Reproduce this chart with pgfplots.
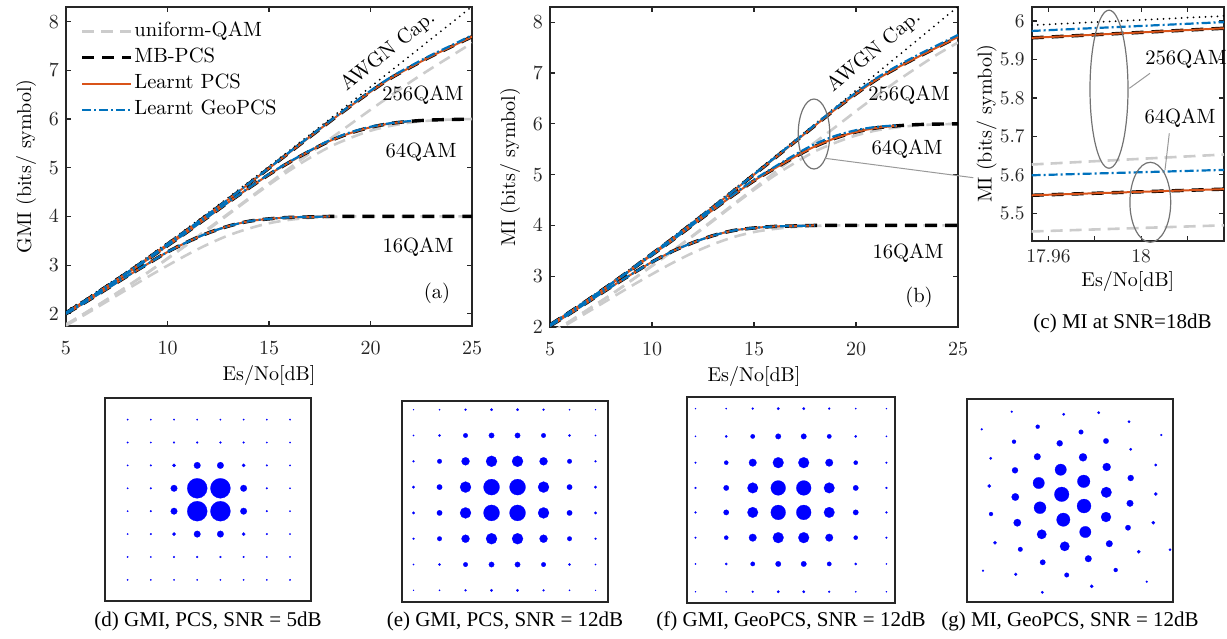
\documentclass[border=0pt]{standalone}
\usepackage{fontspec}
\usepackage{pgfplots}
\usepackage{pgfplotstable}
\pgfplotsset{compat=1.18}
\newfontfamily\tnr{Liberation Serif}

\definecolor{mlorange}{rgb}{0.85,0.325,0.098}
\definecolor{mlblue}{rgb}{0,0.447,0.741}
\definecolor{ugray}{rgb}{0.8,0.8,0.8}
\definecolor{axgray}{rgb}{0.15,0.15,0.15}
\newcommand\lab{\fontsize{10.3}{12}\selectfont}

% GMI curves, panel (a): x C uniform(16,64,256) MB(16,64,256) learnt PCS(16,64,256) learnt GeoPCS(16,64,256)
\pgfplotstableread[row sep=\\]{
x C u16 u64 u256 m16 m64 m256 l16 l64 l256 g16 g64 g256\\
5 2.057 1.76 1.78 1.78 2.00 2.02 2.02 2.00 2.02 2.02 2.00 2.02 2.025\\
6 2.316 2.00 2.03 2.03 2.25 2.28 2.28 2.25 2.28 2.28 2.25 2.28 2.285\\
7 2.588 2.25 2.29 2.29 2.51 2.56 2.56 2.51 2.56 2.56 2.51 2.56 2.565\\
8 2.870 2.50 2.56 2.56 2.77 2.83 2.84 2.77 2.83 2.84 2.77 2.83 2.845\\
9 3.161 2.75 2.84 2.84 3.02 3.11 3.13 3.02 3.11 3.13 3.02 3.11 3.135\\
10 3.459 2.99 3.13 3.14 3.27 3.40 3.43 3.27 3.40 3.43 3.27 3.40 3.435\\
11 3.764 3.22 3.43 3.44 3.48 3.69 3.73 3.48 3.69 3.73 3.48 3.69 3.735\\
12 4.075 3.43 3.73 3.75 3.66 3.99 4.04 3.66 3.99 4.04 3.66 3.995 4.045\\
13 4.389 3.61 4.04 4.06 3.80 4.29 4.35 3.80 4.29 4.35 3.80 4.295 4.355\\
14 4.707 3.75 4.35 4.37 3.90 4.58 4.67 3.90 4.58 4.67 3.90 4.585 4.675\\
15 5.028 3.86 4.65 4.68 3.95 4.86 4.99 3.95 4.86 4.99 3.95 4.87 4.995\\
16 5.351 3.93 4.94 4.99 3.98 5.11 5.31 3.98 5.11 5.31 3.98 5.12 5.32\\
17 5.676 3.97 5.20 5.29 3.99 5.34 5.63 3.99 5.34 5.63 3.99 5.35 5.64\\
18 6.002 3.99 5.43 5.59 4.00 5.55 5.95 4.00 5.55 5.95 4.00 5.565 5.96\\
19 6.330 4.00 5.61 5.89 4.00 5.71 6.26 nan 5.71 6.26 nan 5.725 6.275\\
20 6.658 4.00 5.76 6.19 4.00 5.83 6.56 nan 5.83 6.56 nan 5.84 6.58\\
21 6.988 4.00 5.86 6.48 4.00 5.91 6.84 nan 5.91 6.84 nan 5.915 6.86\\
22 7.317 4.00 5.93 6.77 4.00 5.955 7.07 nan 5.955 7.07 nan 5.96 7.095\\
23 7.647 4.00 5.97 7.04 4.00 5.98 7.29 nan nan 7.29 nan nan 7.315\\
24 7.978 4.00 5.99 7.30 4.00 5.99 7.49 nan nan 7.49 nan nan 7.515\\
25 8.309 4.00 6.00 7.56 4.00 6.00 7.69 nan nan 7.69 nan nan 7.72\\
}\gmitab

% MI curves, panel (b)
\pgfplotstableread[row sep=\\]{
x C u16 u64 u256 m16 m64 m256 l16 l64 l256 g16 g64 g256\\
5 2.057 1.86 1.88 1.88 2.02 2.04 2.04 2.02 2.04 2.04 2.02 2.04 2.045\\
6 2.316 2.09 2.12 2.12 2.27 2.30 2.30 2.27 2.30 2.30 2.27 2.30 2.305\\
7 2.588 2.33 2.38 2.38 2.53 2.57 2.57 2.53 2.57 2.57 2.53 2.57 2.575\\
8 2.870 2.57 2.64 2.64 2.79 2.85 2.85 2.79 2.85 2.85 2.79 2.85 2.855\\
9 3.161 2.81 2.92 2.92 3.04 3.13 3.14 3.04 3.13 3.14 3.04 3.13 3.145\\
10 3.459 3.04 3.20 3.21 3.28 3.42 3.44 3.28 3.42 3.44 3.28 3.42 3.445\\
11 3.764 3.26 3.49 3.50 3.49 3.71 3.74 3.49 3.71 3.74 3.49 3.71 3.745\\
12 4.075 3.46 3.79 3.80 3.66 4.01 4.05 3.66 4.01 4.05 3.66 4.015 4.055\\
13 4.389 3.63 4.09 4.11 3.80 4.31 4.36 3.80 4.31 4.36 3.80 4.32 4.365\\
14 4.707 3.77 4.40 4.42 3.90 4.60 4.68 3.90 4.60 4.68 3.90 4.615 4.685\\
15 5.028 3.87 4.70 4.73 3.95 4.88 5.00 3.95 4.88 5.00 3.95 4.90 5.005\\
16 5.351 3.93 4.98 5.04 3.98 5.12 5.32 3.98 5.12 5.32 3.98 5.15 5.33\\
17 5.676 3.97 5.23 5.34 3.99 5.35 5.645 3.99 5.35 5.645 3.99 5.39 5.658\\
18 6.002 3.99 5.46 5.64 4.00 5.557 5.97 4.00 5.557 5.97 4.00 5.606 5.986\\
19 6.330 4.00 5.63 5.94 4.00 5.72 6.29 nan 5.72 6.29 nan 5.765 6.31\\
20 6.658 4.00 5.77 6.25 4.00 5.84 6.59 nan 5.84 6.59 nan 5.875 6.615\\
21 6.988 4.00 5.87 6.55 4.00 5.92 6.87 nan 5.92 6.87 nan 5.94 6.90\\
22 7.317 4.00 5.93 6.84 4.00 5.96 7.10 nan 5.96 7.10 nan 5.97 7.135\\
23 7.647 4.00 5.97 7.11 4.00 5.985 7.31 nan nan 7.31 nan nan 7.35\\
24 7.978 4.00 5.99 7.37 4.00 5.995 7.51 nan nan 7.51 nan nan 7.55\\
25 8.309 4.00 6.00 7.60 4.00 6.00 7.71 nan nan 7.71 nan nan 7.75\\
}\mitab

% zoom at 18 dB, panel (c)
\pgfplotstableread[row sep=\\]{
x C u64 u256 m64 m256 g64 g256\\
17.9528 5.989 5.453 5.627 5.547 5.956 5.599 5.974\\
18.0357 6.013 5.469 5.653 5.563 5.981 5.613 5.997\\
}\zoomtab

% constellations: x y radius(px)
\pgfplotstableread[row sep=\\]{
x y r\\
-7 7 .75\\ -5 7 .75\\ -3 7 .75\\ -1 7 .75\\ 1 7 .75\\ 3 7 .75\\ 5 7 .75\\ 7 7 .75\\
-7 5 .75\\ -5 5 .75\\ -3 5 .9\\ -1 5 1.0\\ 1 5 1.0\\ 3 5 .9\\ 5 5 .75\\ 7 5 .75\\
-7 3 .75\\ -5 3 .9\\ -3 3 1.7\\ -1 3 3.3\\ 1 3 3.3\\ 3 3 1.7\\ 5 3 .9\\ 7 3 .75\\
-7 1 .75\\ -5 1 .9\\ -3 1 3.3\\ -1 1 10\\ 1 1 10\\ 3 1 3.3\\ 5 1 .9\\ 7 1 .75\\
-7 -1 .75\\ -5 -1 .9\\ -3 -1 3.3\\ -1 -1 10\\ 1 -1 10\\ 3 -1 3.3\\ 5 -1 .9\\ 7 -1 .75\\
-7 -3 .75\\ -5 -3 .9\\ -3 -3 1.7\\ -1 -3 3.3\\ 1 -3 3.3\\ 3 -3 1.7\\ 5 -3 .9\\ 7 -3 .75\\
-7 -5 .75\\ -5 -5 .75\\ -3 -5 .9\\ -1 -5 1.0\\ 1 -5 1.0\\ 3 -5 .9\\ 5 -5 .75\\ 7 -5 .75\\
-7 -7 .75\\ -5 -7 .75\\ -3 -7 .75\\ -1 -7 .75\\ 1 -7 .75\\ 3 -7 .75\\ 5 -7 .75\\ 7 -7 .75\\
}\constd

\pgfplotstableread[row sep=\\]{
x y r\\
-7 7 .5\\ -5 7 .7\\ -3 7 1.0\\ -1 7 1.3\\ 1 7 1.3\\ 3 7 1.0\\ 5 7 .7\\ 7 7 .5\\
-7 5 .7\\ -5 5 1.2\\ -3 5 2.3\\ -1 5 2.7\\ 1 5 2.7\\ 3 5 2.3\\ 5 5 1.2\\ 7 5 .7\\
-7 3 1.0\\ -5 3 2.3\\ -3 3 4.0\\ -1 3 5.5\\ 1 3 5.5\\ 3 3 4.0\\ 5 3 2.3\\ 7 3 1.0\\
-7 1 1.3\\ -5 1 2.7\\ -3 1 5.5\\ -1 1 8.0\\ 1 1 8.0\\ 3 1 5.5\\ 5 1 2.7\\ 7 1 1.3\\
-7 -1 1.3\\ -5 -1 2.7\\ -3 -1 5.5\\ -1 -1 8.0\\ 1 -1 8.0\\ 3 -1 5.5\\ 5 -1 2.7\\ 7 -1 1.3\\
-7 -3 1.0\\ -5 -3 2.3\\ -3 -3 4.0\\ -1 -3 5.5\\ 1 -3 5.5\\ 3 -3 4.0\\ 5 -3 2.3\\ 7 -3 1.0\\
-7 -5 .7\\ -5 -5 1.2\\ -3 -5 2.3\\ -1 -5 2.7\\ 1 -5 2.7\\ 3 -5 2.3\\ 5 -5 1.2\\ 7 -5 .7\\
-7 -7 .5\\ -5 -7 .7\\ -3 -7 1.0\\ -1 -7 1.3\\ 1 -7 1.3\\ 3 -7 1.0\\ 5 -7 .7\\ 7 -7 .5\\
}\conste

\pgfplotstableread[row sep=\\]{
x y r\\
-7.49 7.18 .6\\ -5.08 7.18 .7\\ -3 7.18 1.0\\ -1 7.18 1.3\\ 1 7.18 1.3\\ 3 7.18 1.0\\ 5.08 7.18 .7\\ 7.49 7.18 .6\\
-7.49 5 .7\\ -5.08 5 1.2\\ -3 5 2.2\\ -1 5 2.75\\ 1 5 2.75\\ 3 5 2.2\\ 5.08 5 1.2\\ 7.49 5 .7\\
-7.49 2.94 .9\\ -5.08 2.94 2.1\\ -3 2.94 3.8\\ -1 2.94 5.4\\ 1 2.94 5.4\\ 3 2.94 3.8\\ 5.08 2.94 2.1\\ 7.49 2.94 .9\\
-7.49 .96 1.0\\ -5.08 .96 2.7\\ -3 .96 5.3\\ -1 .96 7.4\\ 1 .96 7.4\\ 3 .96 5.3\\ 5.08 .96 2.7\\ 7.49 .96 1.0\\
-7.49 -.96 1.0\\ -5.08 -.96 2.7\\ -3 -.96 5.3\\ -1 -.96 7.4\\ 1 -.96 7.4\\ 3 -.96 5.3\\ 5.08 -.96 2.7\\ 7.49 -.96 1.0\\
-7.49 -2.94 .9\\ -5.08 -2.94 2.1\\ -3 -2.94 3.8\\ -1 -2.94 5.4\\ 1 -2.94 5.4\\ 3 -2.94 3.8\\ 5.08 -2.94 2.1\\ 7.49 -2.94 .9\\
-7.49 -5 .7\\ -5.08 -5 1.2\\ -3 -5 2.2\\ -1 -5 2.75\\ 1 -5 2.75\\ 3 -5 2.2\\ 5.08 -5 1.2\\ 7.49 -5 .7\\
-7.49 -7.18 .6\\ -5.08 -7.18 .7\\ -3 -7.18 1.0\\ -1 -7.18 1.3\\ 1 -7.18 1.3\\ 3 -7.18 1.0\\ 5.08 -7.18 .7\\ 7.49 -7.18 .6\\
}\constf

\pgfplotstableread[row sep=\\]{
x y r\\
-61.3 88.3 1.0\\ -9.3 85.7 1.3\\ 25.7 87.3 1.3\\ -91.3 70.7 1.0\\ -35.3 73.3 2.0\\
8.0 68.0 2.3\\ 56.0 78.3 1.3\\ 88.3 65.0 1.0\\ -59.0 58.3 2.0\\ -13.3 56.7 3.0\\
33.0 59.0 2.7\\ 57.7 50.7 1.3\\ -82.3 41.7 1.3\\ -35.7 43.3 3.3\\ 10.0 42.7 4.0\\
33.7 33.0 4.0\\ 82.7 35.0 1.3\\ -58.0 29.7 3.0\\ -12.3 30.3 5.7\\ 57.7 22.0 3.0\\
-83.7 14.0 1.7\\ -34.3 17.0 5.7\\ 10.7 18.7 6.3\\ 82.7 6.0 1.7\\ -57.7 3.0 3.7\\
-11.3 5.7 7.3\\ 33.3 7.7 5.3\\ 57.0 -3.3 3.3\\ -82.0 -14.0 2.0\\ -33.0 -7.7 6.0\\
11.0 -6.0 7.0\\ -55.7 -22.7 3.7\\ -9.7 -19.7 6.7\\ 33.0 -17.0 5.0\\ 80.3 -22.7 1.7\\
55.0 -27.7 2.7\\ -31.3 -34.3 4.7\\ 12.3 -32.0 5.7\\ -78.0 -42.7 1.7\\ -52.7 -49.3 2.3\\
-8.3 -46.3 4.7\\ 36.3 -43.7 3.3\\ 97.0 -49.7 1.2\\ 65.7 -51.7 1.7\\ -30.3 -62.3 2.7\\
15.3 -58.7 3.3\\ -90.0 -70.7 1.0\\ -57.3 -74.3 1.5\\ -6.3 -75.0 2.3\\ 42.7 -70.0 2.0\\
73.7 -81.7 1.0\\ -30.7 -92.3 1.3\\ 18.7 -86.3 1.7\\
}\constg

\pgfplotsset{
  capsty/.style={black, line width=1pt, line cap=round, dash pattern=on 0pt off 3pt},
  unisty/.style={ugray, line width=1.3pt, dash pattern=on 6pt off 3.5pt},
  mbsty/.style={black, line width=1.7pt, dash pattern=on 6pt off 4pt},
  lpsty/.style={mlorange, line width=1pt},
  gpsty/.style={mlblue, line width=1.1pt, dash pattern=on 4.5pt off 1.5pt on 1pt off 1.5pt},
  curveax/.style={scale only axis, anchor=south west,
    axis line style={axgray, line width=0.8pt},
    tick style={axgray, line width=0.6pt}, major tick length=2.5pt,
    tick label style={font=\fontsize{9.7}{11}\selectfont, text=axgray},
    label style={font=\fontsize{12}{14}\selectfont, text=axgray},
    unbounded coords=jump,
    every axis y label/.style={at={([xshift=-20pt]rel axis cs:0,0.5)}, anchor=center, rotate=90},
    every axis x label/.style={at={([yshift=-24.5pt]rel axis cs:0.5,0)}, anchor=center}},
  constax/.style={scale only axis, anchor=south west, xtick=\empty, ytick=\empty,
    axis line style={axgray, line width=1pt}},
  dots/.style={scatter, only marks, mark=*,
    visualization depends on={0.5*\thisrow{r} \as \rr},
    scatter/@pre marker code/.code={\scope[mark size=\rr pt, draw=blue, fill=blue, line width=0.1pt]},
    scatter/@post marker code/.code={\endscope}},
}

\begin{document}
\begin{tikzpicture}
\useasboundingbox (0,0) rectangle (613.5pt,-319pt);

% (a) GMI
\begin{axis}[curveax, at={(33pt,-163pt)}, width=203pt, height=159.5pt,
  xmin=5, xmax=25, ymin=1.75, ymax=8.3,
  xtick={5,10,15,20,25}, ytick={2,3,4,5,6,7,8},
  xticklabel style={anchor=center, yshift=-10.8pt},
  xlabel={Es/No[dB]}, ylabel={GMI (bits/ symbol)},
  legend style={draw=none, fill=none, at={(axis description cs:0,1)}, anchor=north west,
    xshift=7pt, yshift=-6.4pt, inner sep=0pt, row sep=1.8pt,
    font=\fontsize{10.3}{12}\selectfont,
    nodes={inner sep=0.8pt, text height=0.72em, text depth=0.25em}},
  legend cell align=left,
  legend image code/.code={\draw[#1] (0pt,0pt) -- (21pt,0pt); \path (0pt,0pt) -- (24.5pt,0pt);}]
\addplot[capsty, forget plot] table[x=x, y=C] {\gmitab};
\addplot[unisty, smooth] table[x=x, y=u16] {\gmitab};
\addlegendentry{uniform-QAM}
\addplot[unisty, smooth, forget plot] table[x=x, y=u64] {\gmitab};
\addplot[unisty, smooth, forget plot] table[x=x, y=u256] {\gmitab};
\addplot[mbsty, smooth] table[x=x, y=m16] {\gmitab};
\addlegendentry{MB-PCS}
\addplot[mbsty, smooth, forget plot] table[x=x, y=m64] {\gmitab};
\addplot[mbsty, smooth, forget plot] table[x=x, y=m256] {\gmitab};
\addplot[lpsty, smooth] table[x=x, y=l16] {\gmitab};
\addlegendentry{Learnt PCS}
\addplot[lpsty, smooth, forget plot] table[x=x, y=l64] {\gmitab};
\addplot[lpsty, smooth, forget plot] table[x=x, y=l256] {\gmitab};
\addplot[gpsty, smooth] table[x=x, y=g16] {\gmitab};
\addlegendentry{Learnt GeoPCS}
\addplot[gpsty, smooth, forget plot] table[x=x, y=g64] {\gmitab};
\addplot[gpsty, smooth, forget plot] table[x=x, y=g256] {\gmitab};
\end{axis}

% (b) MI
\begin{axis}[curveax, at={(275pt,-163.5pt)}, width=204pt, height=160pt,
  xmin=5, xmax=25, ymin=2, ymax=8.3,
  xtick={5,10,15,20,25}, ytick={2,3,4,5,6,7,8},
  xticklabel style={anchor=center, yshift=-10.8pt},
  xlabel={Es/No[dB]}, ylabel={MI (bits/ symbol)}]
\addplot[capsty] table[x=x, y=C] {\mitab};
\addplot[unisty, smooth] table[x=x, y=u16] {\mitab};
\addplot[unisty, smooth] table[x=x, y=u64] {\mitab};
\addplot[unisty, smooth] table[x=x, y=u256] {\mitab};
\addplot[mbsty, smooth] table[x=x, y=m16] {\mitab};
\addplot[mbsty, smooth] table[x=x, y=m64] {\mitab};
\addplot[mbsty, smooth] table[x=x, y=m256] {\mitab};
\addplot[lpsty, smooth] table[x=x, y=l16] {\mitab};
\addplot[lpsty, smooth] table[x=x, y=l64] {\mitab};
\addplot[lpsty, smooth] table[x=x, y=l256] {\mitab};
\addplot[gpsty, smooth] table[x=x, y=g16] {\mitab};
\addplot[gpsty, smooth] table[x=x, y=g64] {\mitab};
\addplot[gpsty, smooth] table[x=x, y=g256] {\mitab};
\end{axis}

% (c) zoom at 18 dB
\begin{axis}[curveax, at={(515.85pt,-120.35pt)}, width=96.15pt, height=117pt,
  xmin=17.9528, xmax=18.0357, ymin=5.429, ymax=6.037,
  xtick={17.96,17.98,18,18.02}, xticklabels={17.96,,18,},
  ytick={5.5,5.6,5.7,5.8,5.9,6}, yticklabels={5.5,5.6,5.7,5.8,5.9,6},
  xticklabel style={anchor=center, yshift=-7.6pt},
  xlabel={Es/No[dB]}, ylabel={MI (bits/ symbol)},
  label style={font=\fontsize{11}{13}\selectfont},
  every axis y label/.style={at={([xshift=-22.5pt]rel axis cs:0,0.5)}, anchor=center, rotate=90},
  every axis x label/.style={at={([yshift=-20.2pt]rel axis cs:0.5,0)}, anchor=center}]
\addplot[capsty] table[x=x, y=C] {\zoomtab};
\addplot[unisty] table[x=x, y=u64] {\zoomtab};
\addplot[unisty] table[x=x, y=u256] {\zoomtab};
\addplot[mbsty] table[x=x, y=m64] {\zoomtab};
\addplot[mbsty] table[x=x, y=m256] {\zoomtab};
\addplot[lpsty] table[x=x, y=m64] {\zoomtab};
\addplot[lpsty] table[x=x, y=m256] {\zoomtab};
\addplot[gpsty] table[x=x, y=g64] {\zoomtab};
\addplot[gpsty] table[x=x, y=g256] {\zoomtab};
\end{axis}

% constellations
\begin{axis}[constax, at={(52.5pt,-300.35pt)}, width=103pt, height=101.2pt,
  xmin=-8.95, xmax=8.81, ymin=-8.82, ymax=8.86]
\addplot[dots] table {\constd};
\end{axis}
\begin{axis}[constax, at={(200.85pt,-300.85pt)}, width=103.3pt, height=100.35pt,
  xmin=-7.91, xmax=7.98, ymin=-7.88, ymax=7.67]
\addplot[dots] table {\conste};
\end{axis}
\begin{axis}[constax, at={(343.35pt,-301.35pt)}, width=104.15pt, height=102.85pt,
  xmin=-8.18, xmax=8.16, ymin=-8.04, ymax=8.09]
\addplot[dots] table {\constf};
\end{axis}
\begin{axis}[constax, at={(483.35pt,-300.85pt)}, width=103pt, height=101.35pt,
  xmin=-106.3, xmax=99.7, ymin=-101.7, ymax=101]
\addplot[dots] table {\constg};
\end{axis}

% annotations, in pixel units of the reference
\begin{scope}[x=0.5pt, y=-0.5pt]
\node[rotate=38.7, font=\lab] at (388,51.5) {AWGN Cap.};
\node[font=\lab] at (423,95) {256QAM};
\node[font=\lab] at (421,152) {64QAM};
\node[font=\lab] at (418,247) {16QAM};
\node[font=\lab] at (437,293) {(a)};
\node[rotate=39.5, font=\lab] at (874,51.5) {AWGN Cap.};
\node[font=\lab] at (909,95) {256QAM};
\node[font=\lab] at (907,149) {64QAM};
\node[font=\lab] at (908,253) {16QAM};
\node[font=\lab] at (919,297) {(b)};
\draw[black!55, line width=0.6pt] (814,134) ellipse [x radius=7.9pt, y radius=17.5pt];
\draw[black!40, line width=0.5pt] (825,158.3) -- (973.3,177.7);
\draw[black!55, line width=0.6pt] (1109,89.2) ellipse [x radius=9.5pt, y radius=39.5pt];
\draw[black!55, line width=0.6pt] (1150.3,202.3) ellipse [x radius=10.2pt, y radius=20pt];
\draw[black!40, line width=0.5pt] (1150,73.3) -- (1129.3,88.3);
\draw[black!40, line width=0.5pt] (1169.3,133.3) -- (1165,170);
\node[font=\lab] at (1186,59) {256QAM};
\node[font=\lab] at (1180,118) {64QAM};
\node[font=\tnr\fontsize{10.5}{12}\selectfont] at (1122.5,323) {(c) MI at SNR=18dB};
\node[font=\tnr\fontsize{10.5}{12}\selectfont] at (208,621) {(d) GMI, PCS, SNR = 5dB};
\node[font=\tnr\fontsize{10.5}{12}\selectfont] at (505,621) {(e) GMI, PCS, SNR = 12dB};
\node[font=\tnr\fontsize{10.5}{12}\selectfont] at (791,621) {(f) GMI, GeoPCS, SNR = 12dB};
\node[font=\tnr\fontsize{10.5}{12}\selectfont] at (1070,621) {(g) MI, GeoPCS, SNR = 12dB};
\end{scope}
\end{tikzpicture}
\end{document}
